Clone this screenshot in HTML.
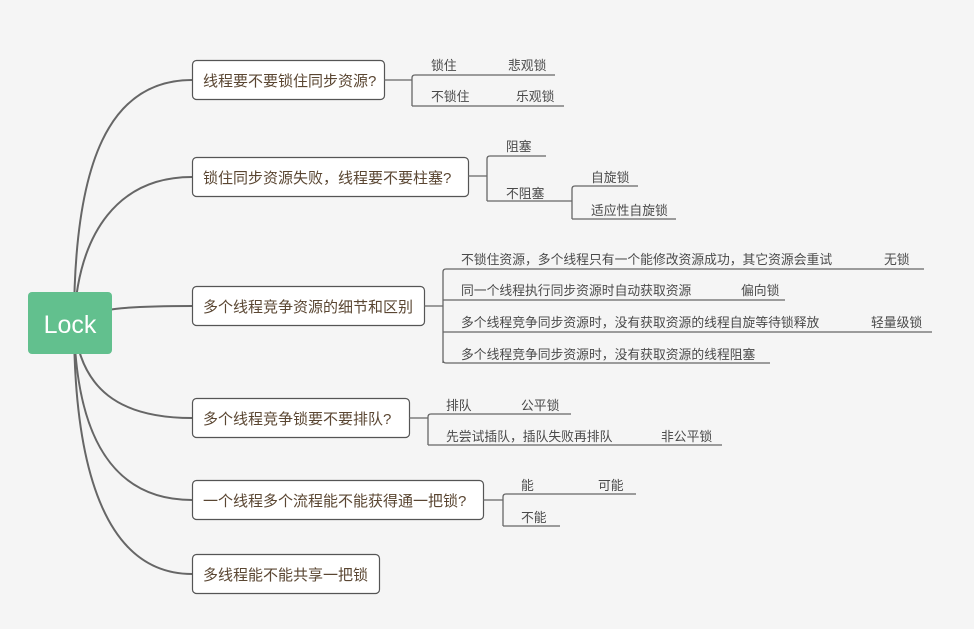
<!DOCTYPE html>
<html><head><meta charset="utf-8"><style>
body{margin:0;background:#f5f5f5;}
svg{display:block}
text{font-family:"Liberation Sans","Noto Sans CJK SC",sans-serif;}
.n{font-size:15px;fill:#5a4632;}
.l{font-size:12.8px;fill:#4a4a4a;}
</style></head><body>
<svg width="974" height="629" viewBox="0 0 974 629" xmlns="http://www.w3.org/2000/svg">
<rect width="974" height="629" fill="#f5f5f5"/>
<g fill="none" stroke="#666" stroke-width="2">
<path d="M74,323 C74,160 110,80 192,80"/>
<path d="M74,323 C78,230 120,177 192,177"/>
<path d="M74,323 C90,308 130,306 192,306"/>
<path d="M74,323 C80,390 120,418 192,418"/>
<path d="M74,323 C76,440 115,500 192,500"/>
<path d="M74,323 C74,480 110,574 192,574"/>
</g>
<rect x="28" y="292" width="84" height="62" rx="4" fill="#62c08e"/>
<text x="70" y="333" text-anchor="middle" style="font-size:25px;fill:#fff">Lock</text>
<g fill="#fff" stroke="#555" stroke-width="1.2">
<rect x="192.5" y="60.5" width="192" height="39" rx="4"/>
<rect x="192.5" y="157.5" width="276" height="39" rx="4"/>
<rect x="192.5" y="286.5" width="232" height="39" rx="4"/>
<rect x="192.5" y="398.5" width="217" height="39" rx="4"/>
<rect x="192.5" y="480.5" width="291" height="39" rx="4"/>
<rect x="192.5" y="554.5" width="187" height="39" rx="4"/>
</g>
<g class="n">
<text x="203" y="86">线程要不要锁住同步资源?</text>
<text x="203" y="183">锁住同步资源失败，线程要不要柱塞?</text>
<text x="203" y="312">多个线程竞争资源的细节和区别</text>
<text x="203" y="424">多个线程竞争锁要不要排队?</text>
<text x="203" y="506">一个线程多个流程能不能获得通一把锁?</text>
<text x="203" y="580">多线程能不能共享一把锁</text>
</g>
<g fill="none" stroke="#666" stroke-width="1.3">
<path d="M384,80 H412 M412,106 V78 Q412,75 415,75 H555 M412,106 H564"/>
<path d="M468,176 H487 M487,201 V159 Q487,156 490,156 H546 M487,201 H572 M572,219 V189 Q572,186 575,186 H638 M572,219 H676"/>
<path d="M424,306 H443 M443,363 V272 Q443,269 446,269 H924 M443,300 H785 M443,332 H932 M443,360 Q443,363 446,363 H770"/>
<path d="M409,418 H428 M428,445 V417 Q428,414 431,414 H571 M428,445 H722"/>
<path d="M483,500 H503 M503,526 V497 Q503,494 506,494 H636 M503,526 H560"/>
</g>
<g class="l">
<text x="431" y="70">锁住</text><text x="508" y="70">悲观锁</text>
<text x="431" y="101">不锁住</text><text x="516" y="101">乐观锁</text>
<text x="506" y="151">阻塞</text>
<text x="506" y="198">不阻塞</text>
<text x="591" y="182">自旋锁</text>
<text x="591" y="215">适应性自旋锁</text>
<text x="461" y="264">不锁住资源，多个线程只有一个能修改资源成功，其它资源会重试</text><text x="884" y="264">无锁</text>
<text x="461" y="295">同一个线程执行同步资源时自动获取资源</text><text x="741" y="295">偏向锁</text>
<text x="461" y="327">多个线程竞争同步资源时，没有获取资源的线程自旋等待锁释放</text><text x="871" y="327">轻量级锁</text>
<text x="461" y="359">多个线程竞争同步资源时，没有获取资源的线程阻塞</text>
<text x="446" y="410">排队</text><text x="521" y="410">公平锁</text>
<text x="446" y="441">先尝试插队，插队失败再排队</text><text x="661" y="441">非公平锁</text>
<text x="521" y="490">能</text><text x="598" y="490">可能</text>
<text x="521" y="522">不能</text>
</g>
</svg>
</body></html>
